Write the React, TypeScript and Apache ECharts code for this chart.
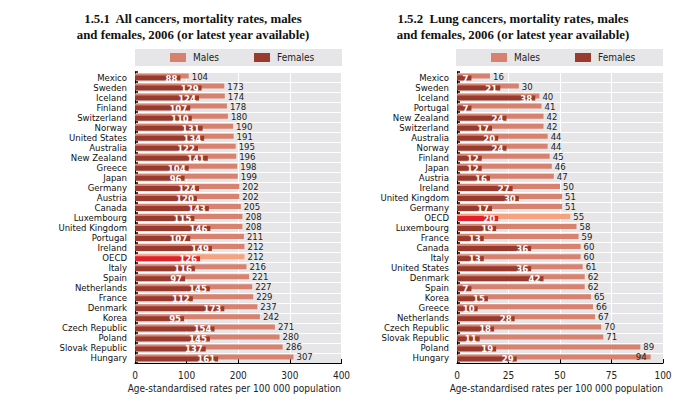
import React, { useEffect, useRef } from "react";
import * as echarts from "echarts";

const categoriesAll = ["Mexico","Sweden","Iceland","Finland","Switzerland","Norway","United States","Australia","New Zealand","Greece","Japan","Germany","Austria","Canada","Luxembourg","United Kingdom","Portugal","Ireland","OECD","Italy","Spain","Netherlands","France","Denmark","Korea","Czech Republic","Poland","Slovak Republic","Hungary"];
const malesAll = [104,173,174,178,180,190,191,195,196,198,199,202,202,205,208,208,211,212,212,216,221,227,229,237,242,271,280,286,307];
const femalesAll = [88,129,124,107,110,131,134,122,141,104,96,124,120,143,115,146,107,149,126,116,97,145,112,173,95,154,145,137,161];

const categoriesLung = ["Mexico","Sweden","Iceland","Portugal","New Zealand","Switzerland","Australia","Norway","Finland","Japan","Austria","Ireland","United Kingdom","Germany","OECD","Luxembourg","France","Canada","Italy","United States","Denmark","Spain","Korea","Greece","Netherlands","Czech Republic","Slovak Republic","Poland","Hungary"];
const malesLung = [16,30,40,41,42,42,44,44,45,46,47,50,51,51,55,58,59,60,60,61,62,62,65,66,67,70,71,89,94];
const femalesLung = [7,21,38,7,24,17,20,24,12,12,16,27,30,17,20,19,13,36,13,36,42,7,15,10,28,18,11,19,29];

const xMaxAll = 400;
const xStepAll = 100;
const xMaxLung = 100;
const xStepLung = 25;

const titleAllLines = ["1.5.1  All cancers, mortality rates, males", "and females, 2006 (or latest year available)"];
const titleLungLines = ["1.5.2  Lung cancers, mortality rates, males", "and females, 2006 (or latest year available)"];
const axisName = "Age-standardised rates per 100 000 population";

const MALE = "#d8816e";
const FEMALE = "#983a2d";
const OECD_M = "#f6a27f";
const OECD_F = "#e2202b";
const BG = "#e6e6e8";
const NARROW = "'Liberation Sans Narrow', 'Arial Narrow', 'DejaVu Sans Condensed', sans-serif";
const SERIF = "'Liberation Serif', 'DejaVu Serif', serif";

function buildSeries(cats: string[], males: number[], females: number[], idx: number, max: number) {
  return [
    {
      type: "bar",
      name: "Males",
      xAxisIndex: idx,
      yAxisIndex: idx,
      barWidth: 5,
      barGap: "-60%",
      itemStyle: { color: MALE },
      label: { show: true, position: "right", distance: 3, color: "#222", fontSize: 9.5, fontFamily: NARROW },
      data: males.map((v, i) => {
        const item: any = { value: v };
        if (cats[i] === "OECD") item.itemStyle = { color: OECD_M };
        if (v > max * 0.92) item.label = { position: "insideRight", distance: 4, color: "#222" };
        return item;
      }),
    },
    {
      type: "bar",
      name: "Females",
      xAxisIndex: idx,
      yAxisIndex: idx,
      barWidth: 5,
      barGap: "-60%",
      itemStyle: { color: FEMALE },
      label: { show: true, position: "insideRight", distance: 3, color: "#fff", fontSize: 9.5, fontWeight: "bold", fontFamily: NARROW },
      data: females.map((v, i) => {
        const item: any = { value: v };
        if (cats[i] === "OECD") item.itemStyle = { color: OECD_F };
        return item;
      }),
    },
  ];
}

function titleTexts(lines: string[], cx: number) {
  return lines.map((t, i) => ({
    type: "text",
    x: cx,
    y: 19.3 + i * 15.6,
    style: {
      text: t,
      textAlign: "center",
      textVerticalAlign: "middle",
      fontFamily: SERIF,
      fontWeight: "bold",
      fontSize: 12.8,
      fill: "#111",
    },
  }));
}

export default function App() {
  const ref = useRef<HTMLDivElement>(null);
  useEffect(() => {
    if (!ref.current) return;
    const chart = echarts.init(ref.current, null, { renderer: "svg" });
    const top = 72;
    const height = 291;
    const grids = [
      { left: 135, top, width: 206.5, height, show: true, backgroundColor: BG, borderWidth: 0 },
      { left: 457, top, width: 206, height, show: true, backgroundColor: BG, borderWidth: 0 },
    ];
    const xAxis = [
      { max: xMaxAll, step: xStepAll },
      { max: xMaxLung, step: xStepLung },
    ].map((a, i) => ({
      type: "value",
      gridIndex: i,
      min: 0,
      max: a.max,
      interval: a.step,
      axisLine: { show: true, lineStyle: { color: "#000", width: 1 } },
      axisTick: { show: true, inside: true, length: 4, lineStyle: { color: "#000" } },
      splitLine: { show: true, lineStyle: { color: "#fff", width: 1 } },
      axisLabel: { color: "#222", fontSize: 10, margin: 7, fontFamily: NARROW },
    }));
    const yAxis = [categoriesAll, categoriesLung].map((c, i) => ({
      type: "category",
      gridIndex: i,
      inverse: true,
      data: c,
      axisLine: { show: true, lineStyle: { color: "#000", width: 1 } },
      axisTick: { show: true, inside: true, length: 3, interval: 0, lineStyle: { color: "#000", width: 1.5 } },
      splitLine: { show: true, interval: 0, lineStyle: { color: "#fff", width: 1 } },
      axisLabel: { color: "#111", fontSize: 9.5, margin: 8, interval: 0, fontFamily: NARROW },
    }));
    const legendBase = {
      data: ["Males", "Females"],
      icon: "rect",
      itemWidth: 16,
      itemHeight: 9,
      itemGap: 35,
      top: 52.5,
      padding: 0,
      selectedMode: false,
      textStyle: { color: "#222", fontSize: 10, fontFamily: NARROW, padding: [0, 0, 0, 2] },
    };
    chart.setOption({
      animation: false,
      grid: grids,
      xAxis,
      yAxis,
      legend: [
        { ...legendBase, left: 170 },
        { ...legendBase, left: 491 },
      ],
      series: [
        ...buildSeries(categoriesAll, malesAll, femalesAll, 0, xMaxAll),
        ...buildSeries(categoriesLung, malesLung, femalesLung, 1, xMaxLung),
      ],
      graphic: [
        { type: "rect", z: -10, shape: { x: 135, y: 49, width: 207, height: 17 }, style: { fill: BG } },
        { type: "rect", z: -10, shape: { x: 456, y: 49, width: 207, height: 17 }, style: { fill: BG } },
        ...titleTexts(titleAllLines, 193),
        ...titleTexts(titleLungLines, 513),
        {
          type: "text", x: 341, y: 388,
          style: { text: axisName, textAlign: "right", textVerticalAlign: "middle", fontFamily: NARROW, fontSize: 10, fill: "#222" },
        },
        {
          type: "text", x: 663, y: 388,
          style: { text: axisName, textAlign: "right", textVerticalAlign: "middle", fontFamily: NARROW, fontSize: 10, fill: "#222" },
        },
      ],
    });
    return () => chart.dispose();
  }, []);
  return <div ref={ref} style={{ position: "absolute", left: 0, top: 0, width: 698, height: 411, background: "#fff" }} />;
}
